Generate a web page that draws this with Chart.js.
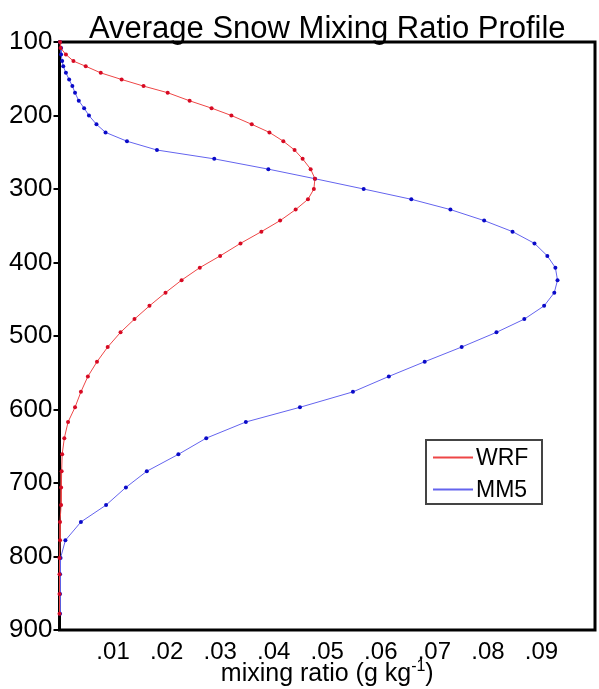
<!DOCTYPE html>
<html>
<head>
<meta charset="utf-8">
<script src="https://cdn.jsdelivr.net/npm/chart.js@4/dist/chart.umd.min.js"></script>
<style>
  html, body { margin: 0; padding: 0; background: #fff; }
  #wrap { width: 599px; height: 689px; }
</style>
</head>
<body>
<div id="wrap"><canvas id="c" width="599" height="689"></canvas></div>
<script>
// ---- Data ----
const chartTitle = 'Average Snow Mixing Ratio Profile';
const seriesNames = ['WRF', 'MM5'];
const pressureLevels = [100,108,117,126,133,142,151,160,169,180,190,200,212,223,235,247,259,273,286,300,
  314,328,343,358,374,391,407,424,441,459,477,495,515,535,555,576,597,617,639,661,684,706,730,753,778,802,824,851,878];
const wrfSnow = [0.0001,0.0002,0.0012,0.0026,0.0049,0.0077,0.0116,0.0157,0.0202,0.0243,0.0284,0.0321,0.0359,0.0392,0.0418,
  0.0439,0.0454,0.0469,0.0477,0.0475,0.0464,0.0441,0.0412,0.0377,0.0338,0.0300,0.0262,0.0228,0.0198,0.0168,
  0.0140,0.0114,0.0090,0.0070,0.0053,0.0040,0.0029,0.0016,0.0009,0.0005,0.0004,0.0003,0.0003,0.0001,0.0001,
  0.0000,0.0000,0.0000,0.0000];
const mm5Snow = [0.0001,0.0003,0.0003,0.0005,0.0007,0.0012,0.0018,0.0024,0.0029,0.0036,0.0046,0.0055,0.0069,0.0086,0.0126,
  0.0182,0.0289,0.0390,0.0477,0.0568,0.0657,0.0730,0.0793,0.0846,0.0887,0.0911,0.0926,0.0930,0.0924,0.0905,
  0.0868,0.0816,0.0751,0.0682,0.0615,0.0548,0.0449,0.0348,0.0274,0.0222,0.0163,0.0124,0.0087,0.0040,0.0011,
  0.0002,0.0001,0.0001,0.0001];
const xAxisTitle = ['mixing ratio (g kg', '-1', ')'];
const xRange = [0, 0.1];
const yRange = [100, 900];

const FONT = '"Liberation Sans", Arial, Helvetica, sans-serif';

function toPoints(xs) { return xs.map((v, i) => ({ x: v, y: pressureLevels[i] })); }

const framePlugin = {
  id: 'frame',
  beforeDatasetsDraw(chart) {
    const { ctx, chartArea: a } = chart;
    ctx.save();
    ctx.strokeStyle = '#000';
    ctx.lineWidth = 3;
    ctx.strokeRect(a.left, a.top, a.right - a.left, a.bottom - a.top);
    ctx.restore();
  }
};

const textPlugin = {
  id: 'texts',
  afterDraw(chart) {
    const { ctx, chartArea: a } = chart;
    const cx = (a.left + a.right) / 2;
    ctx.save();
    ctx.fillStyle = '#000';
    // title
    ctx.font = '31px ' + FONT;
    ctx.textAlign = 'center';
    ctx.textBaseline = 'alphabetic';
    ctx.fillText(chartTitle, cx, 38);
    // x axis title with superscript
    const big = '25px ' + FONT, small = '16px ' + FONT;
    ctx.font = big; const w1 = ctx.measureText(xAxisTitle[0]).width; const w3 = ctx.measureText(xAxisTitle[2]).width;
    ctx.font = small; const w2 = ctx.measureText(xAxisTitle[1]).width;
    let x = cx - (w1 + w2 + w3) / 2;
    const base = 681;
    ctx.textAlign = 'left';
    ctx.font = big; ctx.fillText(xAxisTitle[0], x, base); x += w1;
    ctx.font = small; ctx.fillText(xAxisTitle[1], x, base - 10); x += w2;
    ctx.font = big; ctx.fillText(xAxisTitle[2], x, base);
    // legend
    const lx = 426, ly = 440, lw = 116, lh = 64;
    ctx.fillStyle = '#fff';
    ctx.fillRect(lx, ly, lw, lh);
    ctx.strokeStyle = '#444';
    ctx.lineWidth = 2;
    ctx.strokeRect(lx, ly, lw, lh);
    ctx.font = '23px ' + FONT;
    ctx.textBaseline = 'middle';
    chart.data.datasets.forEach((ds, i) => {
      const yy = ly + 17.5 + i * 32;
      ctx.strokeStyle = ds.borderColor;
      ctx.lineWidth = 2;
      ctx.beginPath(); ctx.moveTo(lx + 7, yy); ctx.lineTo(lx + 47, yy); ctx.stroke();
      ctx.fillStyle = '#000';
      ctx.fillText(ds.label, lx + 50, yy + 1);
    });
    ctx.restore();
  }
};

new Chart(document.getElementById('c'), {
  type: 'scatter',
  data: {
    datasets: [
      { label: seriesNames[0], data: toPoints(wrfSnow), showLine: true, borderColor: 'rgb(238,70,70)', borderWidth: 1,
        pointBackgroundColor: 'rgb(215,10,35)', pointBorderColor: 'rgb(215,10,35)', pointRadius: 2, pointBorderWidth: 0, clip: false },
      { label: seriesNames[1], data: toPoints(mm5Snow), showLine: true, borderColor: 'rgb(100,100,238)', borderWidth: 1,
        pointBackgroundColor: 'rgb(10,10,200)', pointBorderColor: 'rgb(10,10,200)', pointRadius: 2, pointBorderWidth: 0, clip: false }
    ]
  },
  options: {
    responsive: false,
    animation: false,
    layout: { padding: { top: 42, right: 2, left: 0, bottom: 0 } },
    plugins: { legend: { display: false }, title: { display: false }, tooltip: { enabled: false } },
    scales: {
      x: {
        type: 'linear', min: xRange[0], max: xRange[1],
        grid: { display: false },
        border: { display: false },
        ticks: {
          stepSize: 0.01, color: '#000', padding: 0, maxRotation: 0, autoSkip: false,
          font: { family: FONT, size: 24 },
          callback: (v) => {
            const r = Math.round(v * 100);
            if (r <= 0 || r >= 10) return '';
            return '.' + String(r).padStart(2, '0');
          }
        },
        afterFit: (s) => { s.height = 59; s.paddingLeft = 0; s.paddingRight = 0; }
      },
      y: {
        type: 'linear', reverse: true, min: yRange[0], max: yRange[1],
        grid: { display: true, drawOnChartArea: false, drawTicks: true, tickLength: 6, color: '#000', lineWidth: 2 },
        border: { display: false },
        ticks: { stepSize: 100, color: '#000', padding: 1, font: { family: FONT, size: 26 } },
        afterFit: (s) => { s.width = 59.5; s.paddingTop = 0; s.paddingBottom = 0; }
      }
    }
  },
  plugins: [framePlugin, textPlugin]
});
</script>
</body>
</html>
